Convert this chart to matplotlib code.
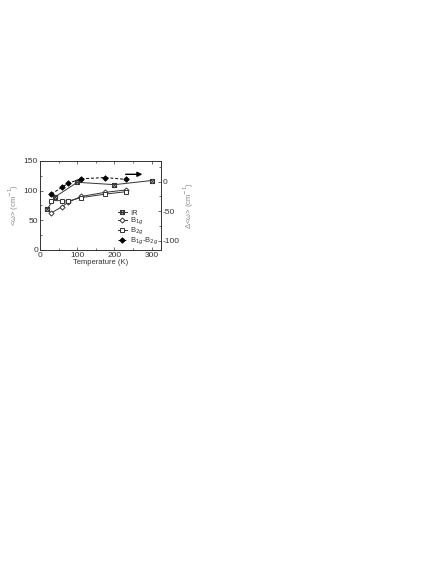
import matplotlib
matplotlib.use("Agg")
import matplotlib.pyplot as plt
from matplotlib.path import Path
from matplotlib.ticker import MultipleLocator

plt.rcParams['font.family'] = ['Liberation Sans', 'DejaVu Sans']
plt.rcParams['axes.unicode_minus'] = False

# IR
T_ir = [20, 40, 100, 200, 300]
w_ir = [69, 89, 114, 110, 117]
# Raman B1g / B2g
T_raman = [30, 60, 75, 110, 175, 230]
w_b1g = [62, 73, 80, 90, 97, 101]
w_b2g = [83, 83, 82, 88, 94, 98]
# difference B1g-B2g (right axis)
d_b1g_b2g = [-21, -9, -3, 5, 7, 4]

col = '#333333'
fs = 5.5

# square with a cross for the IR points
boxx = Path([(-1, -1), (1, -1), (1, 1), (-1, 1), (-1, -1), (1, 1), (-1, 1), (1, -1)],
            [Path.MOVETO, Path.LINETO, Path.LINETO, Path.LINETO, Path.LINETO,
             Path.LINETO, Path.MOVETO, Path.LINETO])

fig = plt.figure(figsize=(4.36, 5.64), dpi=100)
ax = fig.add_axes([40/436, 1-249.7/564, 121/436, 88.7/564])
ax2 = ax.twinx()

l1, = ax.plot(T_ir, w_ir, color=col, lw=0.7, marker=boxx, ms=3, mfc='none', mew=0.7, label='IR')
l2, = ax.plot(T_raman, w_b1g, color=col, lw=0.7, marker='D', ms=2.6, mfc='white', mew=0.7,
              label='B$_{1g}$')
l3, = ax.plot(T_raman, w_b2g, color=col, lw=0.7, marker='s', ms=2.8, mfc='white', mew=0.7,
              label='B$_{2g}$')
l4, = ax2.plot(T_raman, d_b1g_b2g, color='black', lw=0.7, ls=(0, (3, 2)), marker='D', ms=2.8,
               mfc='black', mew=0.6, label='B$_{1g}$-B$_{2g}$')

ax2.annotate('', xy=(275, 12.5), xytext=(230, 12.5),
             arrowprops=dict(arrowstyle='-|>', color='black', lw=1.0, mutation_scale=7,
                             shrinkA=0, shrinkB=0))

ax.set_xlim(0, 325)
ax.set_ylim(0, 150)
ax2.set_ylim(-115, 35)

ax.xaxis.set_major_locator(MultipleLocator(100))
ax.xaxis.set_minor_locator(MultipleLocator(50))
ax.yaxis.set_major_locator(MultipleLocator(50))
ax.yaxis.set_minor_locator(MultipleLocator(25))
ax2.yaxis.set_major_locator(MultipleLocator(50))
ax2.yaxis.set_minor_locator(MultipleLocator(25))

for a in (ax, ax2):
    for s in a.spines.values():
        s.set_linewidth(0.6)
        s.set_color(col)
ax.tick_params(which='both', direction='in', top=True, width=0.5, colors=col, labelsize=fs + 0.5, pad=1.5)
ax.tick_params(which='major', length=2.5)
ax.tick_params(which='minor', length=1.5)
ax.tick_params(axis='y', right=False)
ax2.tick_params(which='both', direction='in', width=0.5, colors=col, labelsize=fs + 0.5, pad=1.5)
ax2.tick_params(which='major', length=2.5)
ax2.tick_params(which='minor', length=1.5)

ax.set_xlabel('Temperature (K)', fontsize=fs, color=col, labelpad=0.5)
ax.set_ylabel('<ω> (cm$^{-1}$)', fontsize=fs, color='#888888', labelpad=2)
ax2.set_ylabel('Δ<ω> (cm$^{-1}$)', fontsize=fs, color='#888888', labelpad=1)

leg = ax.legend(handles=[l1, l2, l3, l4], loc='upper left', bbox_to_anchor=(0.61, 0.50),
                frameon=False, fontsize=fs, handlelength=1.2, handletextpad=0.4,
                labelspacing=-0.12, borderpad=0)
for t in leg.get_texts():
    t.set_color(col)

fig.savefig('out.png', dpi=100)
